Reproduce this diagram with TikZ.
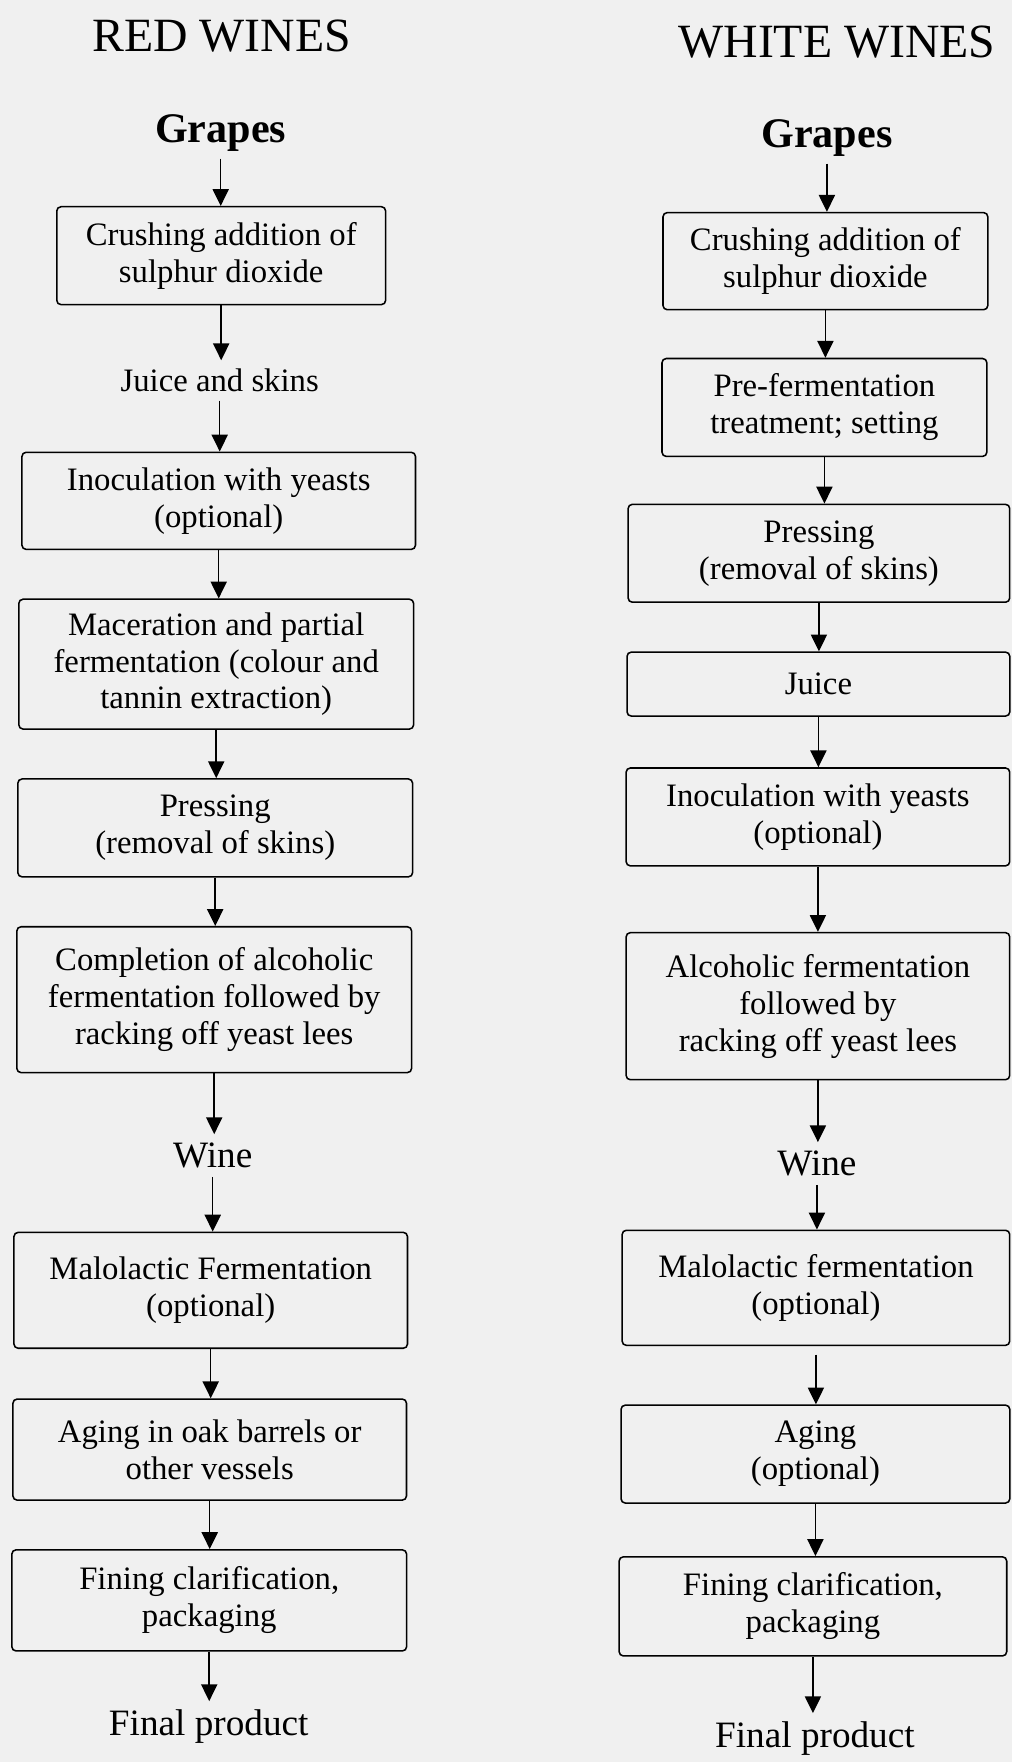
\documentclass[tikz,border=0pt]{standalone}
\usepackage{fontspec}
\setmainfont{Liberation Serif}
\usetikzlibrary{arrows.meta}

\definecolor{paper}{RGB}{240,240,240}

\tikzset{
  stage/.style={draw, rounded corners=3pt, line width=1.1pt, align=center,
    inner sep=2pt, font=\fontsize{23.3}{26.3}\selectfont},
  flowtext/.style={inner sep=6pt, align=center, font=\fontsize{23.3}{26.3}\selectfont},
  endtext/.style={inner sep=6pt, font=\fontsize{26.5}{30}\selectfont},
  heading/.style={inner sep=0pt, font=\fontsize{34}{38}\selectfont},
  source/.style={inner sep=5pt, font=\fontsize{30}{34}\selectfont\bfseries},
  flow/.style={-{Triangle[width=11.5pt,length=12pt]}, line width=1.1pt}
}

\begin{document}
\begin{tikzpicture}[x=0.025cm, y=-0.025cm]
    % Page
    \fill[paper] (0,0) rectangle (1013,1764);

    % Left column (red wines)
    \node (rtitle) [heading] at (222,36) {RED WINES};
    \node (rg) [source] at (221,133) {Grapes};
    \node (r1) [stage, minimum width=8.23cm, minimum height=2.45cm] at (221.5,256) {Crushing addition of\\sulphur dioxide};
    \node (rjs) [flowtext] at (220,381) {Juice and skins};
    \node (r2) [stage, minimum width=9.85cm, minimum height=2.43cm] at (219,501.5) {Inoculation with yeasts\\(optional)};
    \node (r3) [stage, minimum width=9.88cm, minimum height=3.25cm] at (216.5,665) {Maceration and partial\\fermentation (colour and\\tannin extraction)};
    \node (r4) [stage, minimum width=9.88cm, minimum height=2.45cm] at (215.5,829) {Pressing\\(removal of skins)};
    \node (r5) [stage, minimum width=9.88cm, minimum height=3.65cm] at (214.5,1001) {Completion of alcoholic\\fermentation followed by\\racking off yeast lees};
    \node (rw) [endtext] at (213,1157) {Wine};
    \node (r6) [stage, minimum width=9.85cm, minimum height=2.9cm] at (211,1292) {Malolactic Fermentation\\(optional)};
    \node (r7) [stage, minimum width=9.85cm, minimum height=2.53cm] at (210,1451.5) {Aging in oak barrels or\\other vessels};
    \node (r8) [stage, minimum width=9.88cm, minimum height=2.53cm] at (209.5,1602.5) {Fining clarification,\\packaging};
    \node (rfp) [endtext] at (209,1729) {Final product};

    % Right column (white wines)
    \node (wtitle) [heading] at (838,42) {WHITE WINES};
    \node (wg) [source] at (828,138) {Grapes};
    \node (w1) [stage, minimum width=8.13cm, minimum height=2.43cm] at (826.5,261.5) {Crushing addition of\\sulphur dioxide};
    \node (w2) [stage, minimum width=8.13cm, minimum height=2.45cm] at (825.5,408) {Pre-fermentation\\treatment; setting};
    \node (w3) [stage, minimum width=9.55cm, minimum height=2.45cm] at (820,554) {Pressing\\(removal of skins)};
    \node (w4) [stage, minimum width=9.58cm, minimum height=1.6cm] at (819.5,685) {Juice};
    \node (w5) [stage, minimum width=9.6cm, minimum height=2.45cm] at (819,818) {Inoculation with yeasts\\(optional)};
    \node (w6) [stage, minimum width=9.6cm, minimum height=3.68cm] at (819,1007.5) {Alcoholic fermentation\\followed by\\racking off yeast lees};
    \node (ww) [endtext] at (818,1165) {Wine};
    \node (w7) [stage, minimum width=9.7cm, minimum height=2.88cm] at (817,1289.5) {Malolactic fermentation\\(optional)};
    \node (w8) [stage, minimum width=9.73cm, minimum height=2.45cm] at (816.5,1456) {Aging\\(optional)};
    \node (w9) [stage, minimum width=9.7cm, minimum height=2.48cm] at (814,1608.5) {Fining clarification,\\packaging};
    \node (wfp) [endtext] at (816,1741) {Final product};

    % Edges (straight down from each step)
    \draw[flow] (rg) -- (rg |- r1.north);
    \draw[flow] (r1) -- (r1 |- rjs.north);
    \draw[flow] (rjs) -- (rjs |- r2.north);
    \draw[flow] (r2) -- (r2 |- r3.north);
    \draw[flow] (r3) -- (r3 |- r4.north);
    \draw[flow] (r4) -- (r4 |- r5.north);
    \draw[flow] (r5) -- (r5 |- rw.north);
    \draw[flow] (rw) -- (rw |- r6.north);
    \draw[flow] (r6) -- (r6 |- r7.north);
    \draw[flow] (r7) -- (r7 |- r8.north);
    \draw[flow] (r8) -- (r8 |- rfp.north);

    \draw[flow] (wg) -- (wg |- w1.north);
    \draw[flow] (w1) -- (w1 |- w2.north);
    \draw[flow] (w2) -- (w2 |- w3.north);
    \draw[flow] (w3) -- (w3 |- w4.north);
    \draw[flow] (w4) -- (w4 |- w5.north);
    \draw[flow] (w5) -- (w5 |- w6.north);
    \draw[flow] (w6) -- (w6 |- ww.north);
    \draw[flow] (ww) -- (ww |- w7.north);
    \draw[flow, shorten <=6pt] (w7) -- (w7 |- w8.north);
    \draw[flow] (w8) -- (w8 |- w9.north);
    \draw[flow] (w9) -- (w9 |- wfp.north);
\end{tikzpicture}
\end{document}
